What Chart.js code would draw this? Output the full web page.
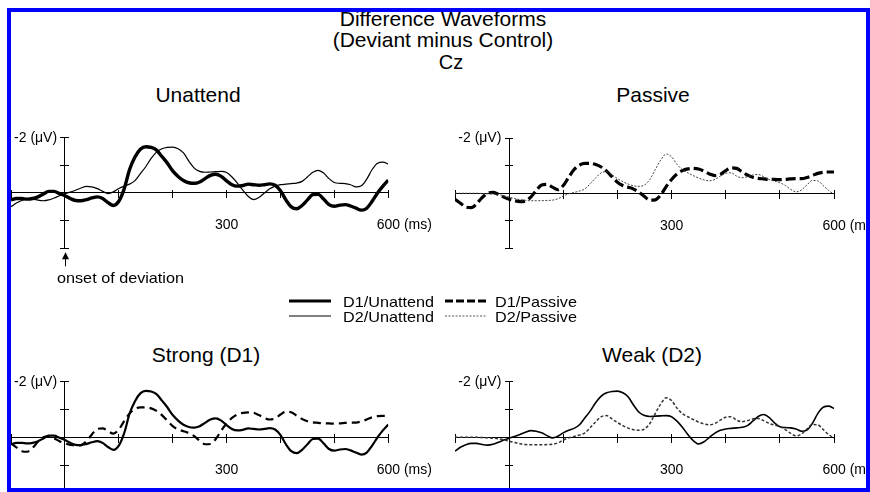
<!DOCTYPE html>
<html>
<head>
<meta charset="utf-8">
<title>Difference Waveforms (Deviant minus Control)</title>
<script src="https://cdn.jsdelivr.net/npm/chart.js@4.4.1/dist/chart.umd.min.js"></script>
<style>
    html, body { margin: 0; padding: 0; background: #fff; overflow: hidden; }
    #page { position: relative; width: 870px; height: 492px; overflow: hidden; font-family: "Liberation Sans", Arial, sans-serif; color: #000; }
    .txt { position: absolute; white-space: nowrap; line-height: 1; }
    .ctr { transform: translateX(-50%); }
    .small { font-size: 15px; transform: scaleX(1.08); transform-origin: left center; }
    canvas { position: absolute; }
    svg { position: absolute; overflow: visible; }
    #frame { position: absolute; left: 7px; top: 8px; width: 863px; height: 484px; box-sizing: border-box; border: 4px solid #0000ff; z-index: 10; pointer-events: none; }
</style>
</head>
<body>
<div id="page">
    <div class="txt ctr" style="left:443px;top:8px;font-size:21px;">Difference Waveforms</div>
    <div class="txt ctr" style="left:443px;top:29px;font-size:21px;">(Deviant minus Control)</div>
    <div class="txt ctr" style="left:451px;top:52px;font-size:20px;">Cz</div>

    <div class="txt ctr" style="left:198px;top:84px;font-size:21px;">Unattend</div>
    <div class="txt ctr" style="left:653px;top:84px;font-size:21px;">Passive</div>
    <div class="txt ctr" style="left:206px;top:344px;font-size:21px;">Strong (D1)</div>
    <div class="txt ctr" style="left:652px;top:344px;font-size:21px;">Weak (D2)</div>

    <canvas id="unattendChart" width="435" height="160" style="left:0;top:110px;"></canvas>
    <canvas id="passiveChart" width="435" height="160" style="left:435px;top:110px;"></canvas>
    <canvas id="strongChart" width="435" height="160" style="left:0;top:350px;"></canvas>
    <canvas id="weakChart" width="435" height="160" style="left:435px;top:350px;"></canvas>

    <div class="txt small" style="left:57px;top:270px;">onset of deviation</div>

    <!-- legend -->
    <svg width="50" height="20" style="left:289px;top:291px;">
        <line x1="0" y1="10" x2="42" y2="10" stroke="#000" stroke-width="3"></line>
    </svg>
    <svg width="50" height="20" style="left:289px;top:306px;">
        <line x1="0" y1="10" x2="42" y2="10" stroke="#000" stroke-width="1"></line>
    </svg>
    <svg width="50" height="20" style="left:445px;top:291px;">
        <line x1="0" y1="10" x2="41" y2="10" stroke="#000" stroke-width="3" stroke-dasharray="8 3"></line>
    </svg>
    <svg width="50" height="20" style="left:445px;top:306px;">
        <line x1="0" y1="10" x2="41" y2="10" stroke="#555" stroke-width="1" stroke-dasharray="2 1.5"></line>
    </svg>
    <div class="txt small" style="left:343px;top:294px;">D1/Unattend</div>
    <div class="txt small" style="left:343px;top:309px;">D2/Unattend</div>
    <div class="txt small" style="left:495px;top:294px;">D1/Passive</div>
    <div class="txt small" style="left:495px;top:309px;">D2/Passive</div>

    <div id="frame"></div>
</div>

<script>
// time points (ms), 10 ms apart
const timesMs = [-100, -90, -80, -70, -60, -50, -40, -30, -20, -10,
    0, 10, 20, 30, 40, 50, 60, 70, 80, 90,
    100, 110, 120, 130, 140, 150, 160, 170, 180, 190,
    200, 210, 220, 230, 240, 250, 260, 270, 280, 290,
    300, 310, 320, 330, 340, 350, 360, 370, 380, 390,
    400, 410, 420, 430, 440, 450, 460, 470, 480, 490,
    500, 510, 520, 530, 540, 550, 560, 570, 580, 590,
    600];

// amplitudes in microvolts (negative is drawn upward)
const d1Unattend = [0.25, 0.2, 0.2, 0.22, 0.2, 0.14, 0.04, -0.06, -0.06, 0.02,
    0.1, 0.2, 0.27, 0.28, 0.24, 0.18, 0.14, 0.2, 0.35, 0.45,
    0.3, -0.15, -0.85, -1.3, -1.58, -1.67, -1.65, -1.55, -1.32, -1.08,
    -0.8, -0.6, -0.45, -0.37, -0.35, -0.4, -0.52, -0.64, -0.68, -0.6,
    -0.44, -0.3, -0.25, -0.27, -0.32, -0.3, -0.28, -0.3, -0.33, -0.28,
    -0.08, 0.25, 0.5, 0.57, 0.45, 0.25, 0.06, 0.05, 0.22, 0.42,
    0.48, 0.44, 0.42, 0.47, 0.55, 0.62, 0.55, 0.3, 0.0, -0.25,
    -0.46];

const d2Unattend = [0.5, 0.36, 0.27, 0.22, 0.22, 0.26, 0.28, 0.25, 0.18, 0.1,
    0.03, -0.03, -0.1, -0.18, -0.24, -0.22, -0.16, -0.06, 0.02, -0.04,
    -0.16, -0.25, -0.32, -0.45, -0.7, -0.95, -1.25, -1.48, -1.6, -1.65,
    -1.66, -1.6, -1.45, -1.15, -0.9, -0.78, -0.75, -0.76, -0.77, -0.78,
    -0.74, -0.58, -0.36, -0.1, 0.12, 0.24, 0.16, 0.0, -0.15, -0.25,
    -0.3, -0.32, -0.34, -0.36, -0.42, -0.58, -0.75, -0.82, -0.72, -0.52,
    -0.38, -0.35, -0.34, -0.3, -0.22, -0.26, -0.5, -0.85, -1.08, -1.12,
    -1.04];

const d1Passive = [0.22, 0.36, 0.5, 0.52, 0.38, 0.16, 0.0, -0.03, 0.04, 0.14,
    0.22, 0.27, 0.3, 0.28, 0.14, -0.1, -0.3, -0.32, -0.22, -0.13,
    -0.28, -0.58, -0.86, -1.02, -1.08, -1.08, -1.04, -0.95, -0.8, -0.6,
    -0.4, -0.28, -0.22, -0.15, -0.04, 0.12, 0.25, 0.24, 0.06, -0.24,
    -0.5, -0.7, -0.82, -0.88, -0.9, -0.88, -0.8, -0.7, -0.64, -0.68,
    -0.82, -0.92, -0.9, -0.78, -0.66, -0.58, -0.54, -0.52, -0.5, -0.5,
    -0.49, -0.5, -0.52, -0.53, -0.53, -0.57, -0.64, -0.72, -0.76, -0.77,
    -0.77];

const d2Passive = [0, 0, 0, 0, 0, 0.01, 0.02, 0.03, 0.05, 0.09,
    0.14, 0.19, 0.23, 0.26, 0.27, 0.27, 0.27, 0.26, 0.25, 0.2,
    0.1, 0.02, -0.03, -0.08, -0.16, -0.35, -0.56, -0.74, -0.78, -0.66,
    -0.53, -0.42, -0.33, -0.27, -0.25, -0.3, -0.5, -0.86, -1.2, -1.42,
    -1.32, -1.05, -0.85, -0.74, -0.64, -0.55, -0.48, -0.45, -0.5, -0.62,
    -0.72, -0.74, -0.62, -0.56, -0.6, -0.66, -0.68, -0.6, -0.5, -0.44,
    -0.38, -0.28, -0.14, -0.05, -0.12, -0.3, -0.46, -0.45, -0.28, -0.1,
    0.03];

const yLabelValue = -2;
const yLabelText = '-2 (\u03bcV)  ';
const xLabelValue = 300;
const xUnitValue = 600;
const xUnitText = '600 (ms)';

Chart.defaults.font.family = '"Liberation Sans", Arial, sans-serif';
Chart.defaults.font.size = 14;
Chart.defaults.color = '#000';

// small upward arrow under the y axis, at time zero
const onsetArrow = {
    id: 'onsetArrow',
    afterDraw(chart) {
        const ctx = chart.ctx;
        const x = Math.round(chart.scales.x.getPixelForValue(0)) + 0.5;
        const top = chart.chartArea.bottom + 4;
        ctx.save();
        ctx.fillStyle = '#000';
        ctx.strokeStyle = '#000';
        ctx.lineWidth = 1;
        ctx.beginPath();
        ctx.moveTo(x, top);
        ctx.lineTo(x - 3.5, top + 7);
        ctx.lineTo(x + 3.5, top + 7);
        ctx.closePath();
        ctx.fill();
        ctx.beginPath();
        ctx.moveTo(x, top + 6);
        ctx.lineTo(x, top + 14);
        ctx.stroke();
        ctx.restore();
    }
};

// an extra x axis that only carries one text label, pushed below the zero line
function labelAxis(text, value, offset) {
    return {
        axis: 'x',
        type: 'linear',
        min: -100,
        max: 600,
        position: { y: 0 },
        border: { display: false },
        grid: { display: false, drawTicks: true, tickLength: 24 },
        ticks: {
            stepSize: 100,
            autoSkip: false,
            maxRotation: 0,
            padding: 0,
            labelOffset: offset,
            callback: v => v === value ? text : ''
        }
    };
}

// tick marks on the other side of an axis, so they cross it
function crossTicks(axis, length) {
    const isX = axis === 'x';
    return {
        axis: axis,
        type: 'linear',
        min: isX ? -100 : -2,
        max: isX ? 600 : 2,
        reverse: !isX,
        position: isX ? { y: 0 } : { x: 0 },
        border: { display: false },
        grid: { drawOnChartArea: false, drawTicks: true, tickLength: -length, color: '#000' },
        ticks: { stepSize: isX ? 100 : 1, display: false }
    };
}

function makePanel(canvasId, padding, series, extraPlugins) {
    const canvas = document.getElementById(canvasId);
    return new Chart(canvas.getContext('2d'), {
        type: 'line',
        data: {
            datasets: series.map(s => ({
                label: s.label,
                data: timesMs.map((t, i) => ({ x: t, y: s.values[i] })),
                borderColor: s.color,
                borderWidth: s.width,
                borderDash: s.dash,
                pointRadius: 0,
                fill: false,
                cubicInterpolationMode: 'monotone'
            }))
        },
        options: {
            responsive: false,
            animation: false,
            devicePixelRatio: 1,
            layout: { padding: padding },
            plugins: {
                legend: { display: false },
                tooltip: { enabled: false }
            },
            scales: {
                x: {
                    type: 'linear',
                    min: -100,
                    max: 600,
                    position: { y: 0 },
                    border: { display: true, color: '#000', width: 1 },
                    grid: { drawOnChartArea: false, drawTicks: true, tickLength: 5, color: '#000' },
                    ticks: { stepSize: 100, display: false }
                },
                xUp: crossTicks('x', 3),
                xLabel: labelAxis(String(xLabelValue), xLabelValue, 0),
                xUnit: labelAxis(xUnitText, xUnitValue, 16),
                y: {
                    type: 'linear',
                    min: -2,
                    max: 2,
                    reverse: true,
                    position: { x: 0 },
                    border: { display: true, color: '#000', width: 1 },
                    grid: { drawOnChartArea: false, drawTicks: true, tickLength: 4, color: '#000' },
                    ticks: {
                        stepSize: 1,
                        autoSkip: false,
                        padding: 2,
                        callback: value => value === yLabelValue ? yLabelText : ''
                    }
                },
                yRight: crossTicks('y', 4)
            }
        },
        plugins: extraPlugins || []
    });
}

const leftPad = { left: 11, right: 46.7, top: 27.7, bottom: 21.7 };
const rightPad = { left: 20, right: 36, top: 28, bottom: 21.5 };
const leftPadLow = { left: 11, right: 46.7, top: 31.7, bottom: 17.1 };
const rightPadLow = { left: 20, right: 36, top: 31.7, bottom: 17.1 };

makePanel('unattendChart', leftPad, [
    { label: 'D2/Unattend', values: d2Unattend, color: '#000', width: 1.2, dash: [] },
    { label: 'D1/Unattend', values: d1Unattend, color: '#000', width: 3.4, dash: [] }
], [onsetArrow]);

makePanel('passiveChart', rightPad, [
    { label: 'D2/Passive', values: d2Passive, color: '#444', width: 1, dash: [2, 1.5] },
    { label: 'D1/Passive', values: d1Passive, color: '#000', width: 3.2, dash: [10, 4] }
]);

makePanel('strongChart', leftPadLow, [
    { label: 'D1/Passive', values: d1Passive, color: '#000', width: 2.2, dash: [8, 5] },
    { label: 'D1/Unattend', values: d1Unattend, color: '#000', width: 2.2, dash: [] }
]);

makePanel('weakChart', rightPadLow, [
    { label: 'D2/Passive', values: d2Passive, color: '#333', width: 1.5, dash: [3, 2] },
    { label: 'D2/Unattend', values: d2Unattend, color: '#000', width: 1.6, dash: [] }
]);
</script>
</body>
</html>
